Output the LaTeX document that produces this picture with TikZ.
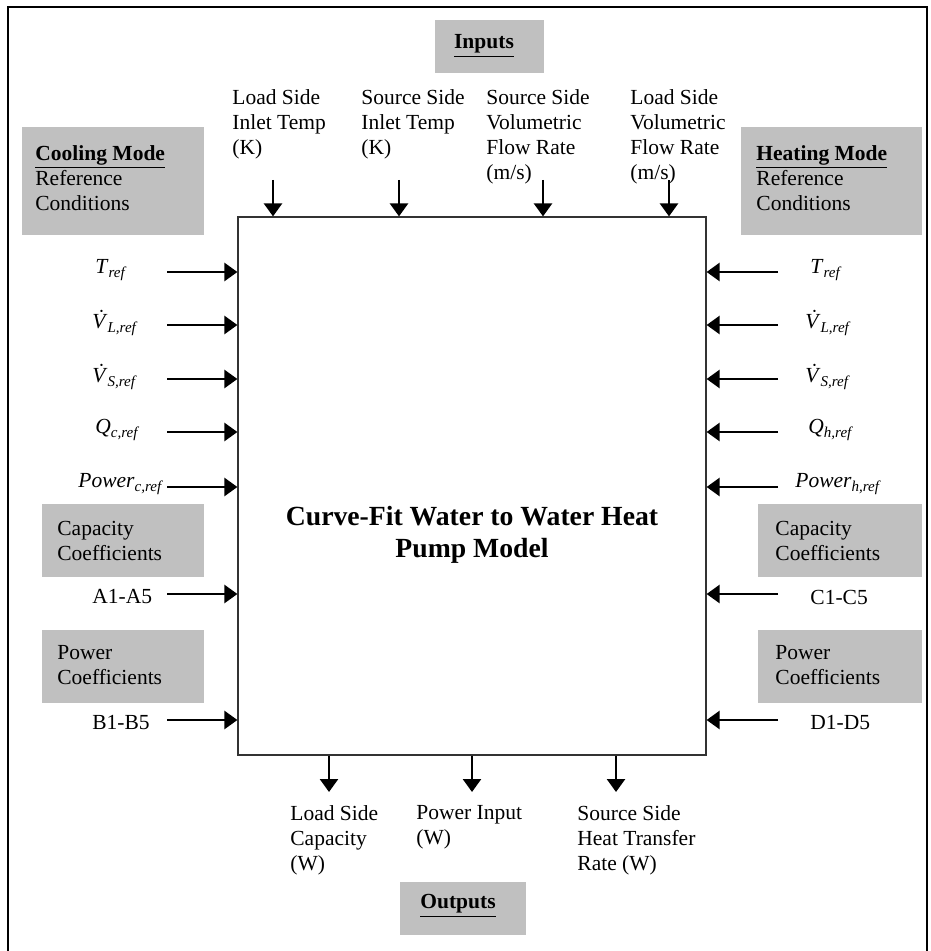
\documentclass[tikz,border=0pt]{standalone}
\usepackage{fontspec}
\setmainfont{Liberation Serif}
\usetikzlibrary{arrows.meta}
\definecolor{boxgray}{RGB}{192,192,192}
\newcommand{\Vdt}{\textit{\accent"02D9 V}}
\begin{document}
\begin{tikzpicture}[x=0.5pt,y=-0.5pt,
  txt/.style={inner sep=0pt, font=\fontsize{10.75}{12.5}\selectfont, align=left},
  lbl/.style={inner sep=0pt, font=\fontsize{10.75}{12.5}\selectfont},
  hdr/.style={inner sep=0pt, font=\fontsize{10.75}{12.5}\selectfont\bfseries},
  arr/.style={line width=1.3pt, -{Triangle[length=6.5pt,width=9pt]}},
  gbox/.style={fill=boxgray}]
\useasboundingbox (0,0) rectangle (930,951);
% outer frame
\draw[line width=1pt] (8,951) -- (8,7) -- (927,7) -- (927,951);
% main box
\node[draw=black!80, line width=0.6pt, minimum width=234pt, minimum height=269pt, inner sep=0pt] (box) at (472,486) {};
\node[inner sep=0pt, font=\fontsize{13.85}{16}\selectfont\bfseries, align=center] (title) at (472,535) {Curve-Fit Water to Water Heat\\Pump Model};
% gray header boxes
\fill[gbox] (435,20) rectangle (544,73);
\node[hdr] (inputs) at (484,46) {\underline{Inputs}};
\fill[gbox] (22,127) rectangle (204,235);
\node[txt, anchor=north west] (cool) at (35,145) {\textbf{\underline{Cooling Mode}}\\Reference\\Conditions};
\fill[gbox] (741,127) rectangle (922,235);
\node[txt, anchor=north west] (heat) at (756,145) {\textbf{\underline{Heating Mode}}\\Reference\\Conditions};
\fill[gbox] (42,504) rectangle (204,577);
\node[txt, anchor=north west] (capL) at (57,521) {Capacity\\Coefficients};
\fill[gbox] (42,630) rectangle (204,703);
\node[txt, anchor=north west] (powL) at (57,645) {Power\\Coefficients};
\fill[gbox] (758,504) rectangle (922,577);
\node[txt, anchor=north west] (capR) at (775,521) {Capacity\\Coefficients};
\fill[gbox] (758,630) rectangle (922,703);
\node[txt, anchor=north west] (powR) at (775,645) {Power\\Coefficients};
\fill[gbox] (400,882) rectangle (526,935);
\node[hdr] (outputs) at (458,906) {\underline{Outputs}};
% top inputs
\node[txt, anchor=north west] (in1) at (232,89) {Load Side\\Inlet Temp\\(K)};
\node[txt, anchor=north west] (in2) at (361,89) {Source Side\\Inlet Temp\\(K)};
\node[txt, anchor=north west] (in3) at (486,89) {Source Side\\Volumetric\\Flow Rate\\(m/s)};
\node[txt, anchor=north west] (in4) at (630,89) {Load Side\\Volumetric\\Flow Rate\\(m/s)};
\coordinate (t1) at (273,180);
\coordinate (t2) at (399,180);
\coordinate (t3) at (543,180);
\coordinate (t4) at (669,180);
\foreach \c in {t1,t2,t3,t4} \draw[arr] (\c) -- (\c |- box.north);
% left side
\node[lbl, anchor=west] (lT) at (95,270) {\textit{T}\textsubscript{\textit{ref}}};
\node[lbl, anchor=west] (lVL) at (92,323) {\Vdt\textsubscript{\textit{L,ref}}};
\node[lbl, anchor=west] (lVS) at (92,377) {\Vdt\textsubscript{\textit{S,ref}}};
\node[lbl, anchor=west] (lQ) at (95,430) {\textit{Q}\textsubscript{\textit{c,ref}}};
\node[lbl, anchor=west] (lP) at (78,484) {\textit{Power}\textsubscript{\textit{c,ref}}};
\node[lbl, anchor=west] (lA) at (92,597) {A1-A5};
\node[lbl, anchor=west] (lB) at (92,723) {B1-B5};
\foreach \n/\y in {l1/272,l2/325,l3/379,l4/432,l5/487,l6/594,l7/720} {
  \coordinate (\n) at (167,\y);
  \draw[arr] (\n) -- (\n -| box.west);
}
% right side
\node[lbl, anchor=west] (rT) at (810,270) {\textit{T}\textsubscript{\textit{ref}}};
\node[lbl, anchor=west] (rVL) at (805,323) {\Vdt\textsubscript{\textit{L,ref}}};
\node[lbl, anchor=west] (rVS) at (805,377) {\Vdt\textsubscript{\textit{S,ref}}};
\node[lbl, anchor=west] (rQ) at (808,430) {\textit{Q}\textsubscript{\textit{h,ref}}};
\node[lbl, anchor=west] (rP) at (795,484) {\textit{Power}\textsubscript{\textit{h,ref}}};
\node[lbl, anchor=west] (rC) at (810,597) {C1-C5};
\node[lbl, anchor=west] (rD) at (810,723) {D1-D5};
\foreach \n/\y in {r1/272,r2/325,r3/379,r4/432,r5/487,r6/594,r7/720} {
  \coordinate (\n) at (778,\y);
  \draw[arr] (\n) -- (\n -| box.east);
}
% bottom outputs
\coordinate (b1) at (329,792);
\coordinate (b2) at (472,792);
\coordinate (b3) at (616,792);
\foreach \c in {b1,b2,b3} \draw[arr] (\c |- box.south) -- (\c);
\node[txt, anchor=north west] (o1) at (290,805) {Load Side\\Capacity\\(W)};
\node[txt, anchor=north west] (o2) at (416,805) {Power Input\\(W)};
\node[txt, anchor=north west] (o3) at (577,805) {Source Side\\Heat Transfer\\Rate (W)};
\end{tikzpicture}
\end{document}
